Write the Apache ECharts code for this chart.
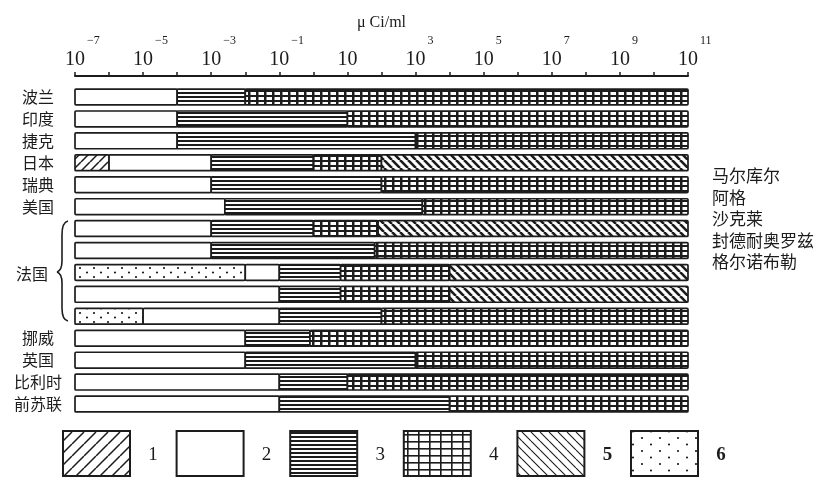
<!DOCTYPE html>
<html>
<head>
<meta charset="utf-8">
<script src="https://cdn.jsdelivr.net/npm/echarts@6/dist/echarts.min.js"></script>
<style>
  html, body { margin: 0; background: #fff; }
  #chart { width: 820px; height: 480px; }
</style>
</head>
<body>
<div id="chart"></div>
<script>
// rows top to bottom (the five French rows are sites)
const rows = ['波兰', '印度', '捷克', '日本', '瑞典', '美国',
  '法国-1', '法国-2', '法国-3', '法国-4', '法国-5',
  '挪威', '英国', '比利时', '前苏联'];
const sites = ['马尔库尔', '阿格', '沙克莱', '封德耐奥罗兹', '格尔诺布勒'];
const tickExp = [-7, -5, -3, -1, 1, 3, 5, 7, 9, 11];
const legendNames = ['1', '2', '3', '4', '5', '6'];

// ranges per row, log10(μCi/ml) [from, to]; null = class not used
const class1 = [null, null, null, [-7, -6], null, null, null, null, null, null, null, null, null, null, null];
const class6 = [null, null, null, null, null, null, null, null, [-7, -2], null, [-7, -5], null, null, null, null];
const class2 = [[-7, -4], [-7, -4], [-7, -4], [-6, -3], [-7, -3], [-7, -2.6], [-7, -3], [-7, -3], [-2, -1], [-7, -1], [-5, -1], [-7, -2], [-7, -2], [-7, -1], [-7, -1]];
const class3 = [[-4, -2], [-4, 1], [-4, 3], [-3, 0], [-3, 2], [-2.6, 3.2], [-3, 0], [-3, 1.8], [-1, 0.8], [-1, 0.8], [-1, 2], [-2, -0.1], [-2, 3], [-1, 1], [-1, 4]];
const class4 = [[-2, 11], [1, 11], [3, 11], [0, 2], [2, 11], [3.2, 11], [0, 1.9], [1.8, 11], [0.8, 4], [0.8, 4], [2, 11], [-0.1, 11], [3, 11], [1, 11], [4, 11]];
const class5 = [null, null, null, [2, 11], null, null, [1.9, 11], null, [4, 11], [4, 11], null, null, null, null, null];

const INK = '#1c1c1c';

// --- pattern tiles ---
const tile = (w, h, draw) => {
  const c = document.createElement('canvas');
  c.width = w; c.height = h;
  const ctx = c.getContext('2d');
  ctx.fillStyle = '#fff';
  ctx.fillRect(0, 0, w, h);
  ctx.fillStyle = INK;
  ctx.strokeStyle = INK;
  draw(ctx, w, h);
  return { image: c, repeat: 'repeat' };
};
const hatch = (s, lw, dir) => tile(s, s, (ctx) => {
  ctx.lineWidth = lw;
  ctx.beginPath();
  for (const o of [-s, 0, s]) {
    if (dir === '/') { ctx.moveTo(o, s); ctx.lineTo(o + s, 0); }
    else { ctx.moveTo(o, 0); ctx.lineTo(o + s, s); }
  }
  ctx.stroke();
});
const stripes = (h, lh) => tile(4, h, (ctx) => ctx.fillRect(0, 0, 4, lh));
const grid = (w, h, lwx, lwy) => tile(w, h, (ctx) => {
  ctx.fillRect(0, 0, w, lwy);
  ctx.fillRect(0, 0, lwx, h);
});
const dots = (w, h) => tile(w, h, (ctx) => {
  ctx.beginPath();
  ctx.arc(3, 2.5, 1.1, 0, Math.PI * 2);
  ctx.arc(w / 2 + 3, h / 2 + 2.5, 1.1, 0, Math.PI * 2);
  ctx.fill();
});

const barFill = {
  c1: hatch(9, 1.5, '/'),
  c2: '#fff',
  c3: stripes(4, 2),
  c4: grid(8, 5, 2.5, 2),
  c5: hatch(8, 2.6, '\\'),
  c6: dots(14, 9)
};
const keyFill = [hatch(12, 1.5, '/'), '#fff', stripes(4, 2), grid(11, 7, 1.6, 1.6), hatch(9, 1.1, '\\'), dots(18, 13)];

const bandSeries = (name, ranges, fill) => {
  const data = [];
  ranges.forEach((r, i) => { if (r) data.push([i, r[0], r[1]]); });
  return {
    type: 'custom',
    name: name,
    data: data,
    encode: { y: 0, x: [1, 2] },
    renderItem: (params, api) => {
      const row = api.value(0);
      const a = api.coord([api.value(1), row]);
      const b = api.coord([api.value(2), row]);
      const h = api.size([0, 1])[1] * 0.72;
      return {
        type: 'rect',
        shape: { x: a[0], y: a[1] - h / 2, width: b[0] - a[0], height: h, r: 1 },
        style: { fill: fill, stroke: INK, lineWidth: 1.7 }
      };
    }
  };
};

const serif = 'Liberation Serif';
const cjk = 'Noto Sans CJK SC';

const graphics = [];
// 法国 label and brace
graphics.push({ type: 'text', x: 32, y: 274, style: { text: '法国', font: '16px "' + cjk + '"', fill: INK, align: 'center', verticalAlign: 'middle' } });
const braceParts = [
  [[68, 221], [63, 222], [62, 228], [62, 235]],
  [[62, 261], [62, 268], [60, 271], [57, 272]],
  [[57, 272], [60, 273], [62, 276], [62, 283]],
  [[62, 308], [62, 315], [63, 320], [68, 321]]
];
braceParts.forEach(p => graphics.push({
  type: 'bezierCurve',
  shape: { x1: p[0][0], y1: p[0][1], cpx1: p[1][0], cpy1: p[1][1], cpx2: p[2][0], cpy2: p[2][1], x2: p[3][0], y2: p[3][1] },
  style: { stroke: INK, lineWidth: 1.6, fill: null }
}));
graphics.push({ type: 'line', shape: { x1: 62, y1: 235, x2: 62, y2: 261 }, style: { stroke: INK, lineWidth: 1.6 } });
graphics.push({ type: 'line', shape: { x1: 62, y1: 283, x2: 62, y2: 308 }, style: { stroke: INK, lineWidth: 1.6 } });
// French site names on the right
sites.forEach((s, i) => graphics.push({
  type: 'text', x: 712, y: 176 + i * 21.5,
  style: { text: s, font: '17px "' + cjk + '"', fill: INK, verticalAlign: 'middle' }
}));
// key boxes
legendNames.forEach((n, i) => {
  const x = 63 + i * 113.6;
  graphics.push({ type: 'rect', shape: { x: x, y: 431, width: 67, height: 45 }, style: { fill: keyFill[i], stroke: INK, lineWidth: 2 } });
  graphics.push({
    type: 'text', x: x + 90, y: 455,
    style: { text: n, font: (i >= 4 ? 'bold ' : '') + '19px "' + serif + '"', fill: INK, align: 'center', verticalAlign: 'middle' }
  });
});

const baseAxis = {
  type: 'value',
  position: 'top',
  min: -7,
  max: 11,
  interval: 1,
  offset: 10,
  splitLine: { show: false }
};

const chart = echarts.init(document.getElementById('chart'));
const option = {
  backgroundColor: '#fff',
  animation: false,
  grid: { left: 75, right: 132, top: 86, bottom: 65 },
  xAxis: [
    Object.assign({}, baseAxis, {
      name: 'μ Ci/ml',
      nameLocation: 'middle',
      nameGap: 45,
      nameTextStyle: { fontFamily: serif, fontSize: 16, color: INK },
      axisLine: { show: true, lineStyle: { color: INK, width: 2 } },
      axisTick: { show: true, length: 4, lineStyle: { color: INK, width: 1.5 } },
      axisLabel: {
        margin: 6,
        fontFamily: serif,
        fontSize: 20,
        color: INK,
        formatter: (v) => tickExp.includes(v) ? '10' : ''
      }
    }),
    // exponents, drawn as superscripts beside "10"
    Object.assign({}, baseAxis, {
      axisLine: { show: false },
      axisTick: { show: false },
      axisLabel: {
        margin: 29,
        align: 'left',
        padding: [0, 0, 0, 12],
        fontFamily: serif,
        fontSize: 12,
        color: INK,
        formatter: (v) => (tickExp.includes(v) && v !== 1) ? String(v).replace('-', '−') : ''
      }
    })
  ],
  yAxis: {
    type: 'category',
    inverse: true,
    data: rows,
    axisLine: { show: false },
    axisTick: { show: false },
    axisLabel: {
      margin: 37,
      align: 'center',
      fontFamily: cjk,
      fontSize: 16,
      color: INK,
      formatter: (v) => v.startsWith('法国') ? '' : v
    }
  },
  series: [
    bandSeries('1', class1, barFill.c1),
    bandSeries('6', class6, barFill.c6),
    bandSeries('2', class2, barFill.c2),
    bandSeries('3', class3, barFill.c3),
    bandSeries('4', class4, barFill.c4),
    bandSeries('5', class5, barFill.c5)
  ],
  graphic: graphics
};
chart.setOption(option);
</script>
</body>
</html>
